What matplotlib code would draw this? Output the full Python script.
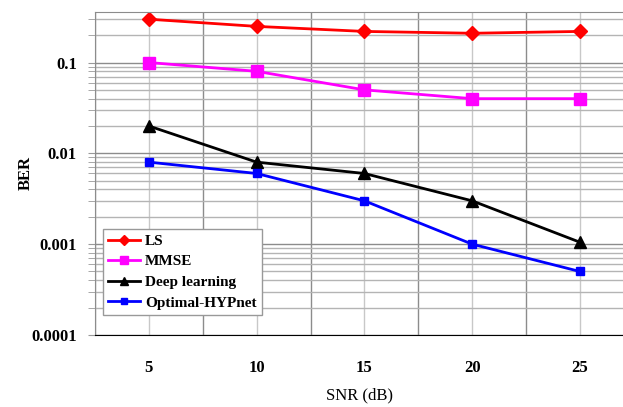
import matplotlib.pyplot as plt
from matplotlib.ticker import FixedLocator, LogLocator, NullFormatter

snr = [5, 10, 15, 20, 25]
ls = [0.30, 0.25, 0.22, 0.21, 0.22]
mmse = [0.10, 0.08, 0.05, 0.04, 0.04]
deep = [0.02, 0.008, 0.006, 0.003, 0.00105]
hyp = [0.008, 0.006, 0.003, 0.001, 0.0005]
yticks = [0.0001, 0.001, 0.01, 0.1]
ytick_labels = ['0.0001', '0.001', '0.01', '0.1']

plt.rcParams['font.family'] = ['Liberation Serif', 'DejaVu Serif']

fig = plt.figure(figsize=(6.23, 4.07), dpi=100)
ax = fig.add_axes([0.1525, 0.177, 0.8475, 0.7935])

ax.plot(snr, ls, color='#ff0000', marker='D', markersize=7, lw=2, label='LS')
ax.plot(snr, mmse, color='#ff00ff', marker='s', markersize=8, lw=2, label='MMSE')
ax.plot(snr, deep, color='black', marker='^', markersize=8, lw=2, label='Deep learning')
ax.plot(snr, hyp, color='#0000ff', marker='s', markersize=6, lw=2, label='Optimal-HYPnet')

ax.set_yscale('log')
ax.set_ylim(1e-4, 0.36)
ax.set_xlim(2.5, 27.0)

# grid: darker lines between data points, lighter at data points
ax.set_xticks(snr)
ax.set_xticklabels([str(s) for s in snr], fontweight='bold', fontsize=12)
ax.xaxis.set_minor_locator(FixedLocator([2.5, 7.5, 12.5, 17.5, 22.5]))
ax.tick_params(axis='x', which='both', length=0, pad=18)
ax.grid(axis='x', which='major', color='#c8c8c8', lw=1)
ax.grid(axis='x', which='minor', color='#8c8c8c', lw=1)

ax.set_yticks(yticks)
ax.set_yticklabels(ytick_labels, fontweight='bold', fontsize=12)
ax.yaxis.set_minor_locator(LogLocator(base=10, subs=range(2, 10)))
ax.yaxis.set_minor_formatter(NullFormatter())
ax.tick_params(axis='y', which='both', length=5, color='#999999', pad=8)
ax.grid(axis='y', which='major', color='#8c8c8c', lw=1)
ax.grid(axis='y', which='minor', color='#b4b4b4', lw=1)
ax.set_axisbelow(True)

ax.spines['right'].set_visible(False)
ax.spines['top'].set_color('#8c8c8c')
ax.spines['left'].set_color('#8c8c8c')
ax.spines['bottom'].set_linestyle((0, (2, 1)))
ax.spines['bottom'].set_color('black')

ax.set_xlabel('SNR (dB)', fontsize=12, labelpad=8)
ax.set_ylabel('BER', fontsize=12, fontweight='bold', labelpad=-2)

leg = ax.legend(loc='lower left', bbox_to_anchor=(0.015, 0.062), borderaxespad=0,
                prop={'weight': 'bold', 'size': 11},
                fancybox=False, edgecolor='#999999', framealpha=1, borderpad=0.35,
                labelspacing=0.45, handlelength=2.1, handletextpad=0.3, markerscale=0.7)
leg.get_frame().set_linewidth(1)

fig.savefig('out.png', dpi=100)
